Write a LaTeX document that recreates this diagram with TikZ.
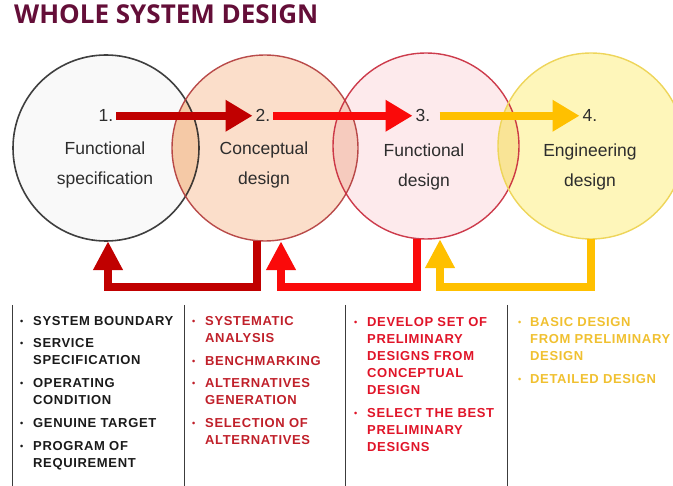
\documentclass[tikz,border=0pt]{standalone}
\usepackage{fontspec}
\setmainfont{Liberation Sans}
\newfontfamily\titlefont{Open Sans}
\newfontfamily\listfont{Liberation Sans}[LetterSpace=5]
\usetikzlibrary{arrows.meta}
\definecolor{titlecol}{RGB}{100,14,56}
\definecolor{darkred}{RGB}{192,0,0}
\definecolor{brightred}{RGB}{250,10,10}
\definecolor{amber}{RGB}{255,192,0}
\definecolor{fillA}{RGB}{249,249,249}
\definecolor{fillB}{RGB}{251,222,202}
\definecolor{fillC}{RGB}{253,234,236}
\definecolor{fillD}{RGB}{254,246,186}
\definecolor{lensAB}{RGB}{245,201,166}
\definecolor{lensBC}{RGB}{246,203,190}
\definecolor{lensCD}{RGB}{249,228,150}
\definecolor{bordA}{RGB}{30,30,30}
\definecolor{bordB}{RGB}{178,58,58}
\definecolor{bordC}{RGB}{200,40,58}
\definecolor{bordD}{RGB}{238,213,90}
\definecolor{labcol}{RGB}{45,45,45}
\definecolor{colone}{RGB}{26,26,26}
\definecolor{coltwo}{RGB}{192,32,42}
\definecolor{colthree}{RGB}{224,20,40}
\definecolor{colfour}{RGB}{240,192,48}
\definecolor{sepcol}{RGB}{60,60,60}
\newcommand{\bul}{\raisebox{1pt}{\scalebox{0.7}{•}}}
\begin{document}
\begin{tikzpicture}[x=1pt,y=-1pt,
  circ/.style={circle,minimum size=186pt,inner sep=0pt},
  num/.style={anchor=base,inner ysep=0pt,inner xsep=3pt,text height=12.5pt,text depth=0pt,font=\fontsize{17.5}{21}\selectfont,text=labcol},
  lab/.style={anchor=base,inner sep=0pt,font=\fontsize{17.5}{30}\selectfont,text=labcol},
  fwd/.style={line width=8pt,-{Triangle[width=30pt,length=27pt]}},
  fb/.style={line width=8pt,line join=miter,-{Triangle[width=28pt,length=29pt]}},
  listcol/.style={anchor=base west,inner sep=0pt,font=\listfont\bfseries\fontsize{13}{17}\selectfont},
  sep/.style={draw=sepcol,line width=1pt}]
\useasboundingbox (0,0) rectangle (673,486);
% title
\node[anchor=base west,inner sep=0pt,text=titlecol,font=\titlefont\bfseries\fontsize{26}{30}\selectfont] (title) at (14,24) {WHOLE SYSTEM DESIGN};
% circles
\node[circ,fill=fillA] (c1) at (106,148) {};
\node[circ,fill=fillB] (c2) at (265,148) {};
\node[circ,fill=fillC] (c3) at (426,146) {};
\node[circ,fill=fillD] (c4) at (591,146) {};
\begin{scope}
  \clip (c1.center) circle[radius=93pt];
  \fill[lensAB] (c2.center) circle[radius=93pt];
\end{scope}
\begin{scope}
  \clip (c2.center) circle[radius=93pt];
  \fill[lensBC] (c3.center) circle[radius=93pt];
\end{scope}
\begin{scope}
  \clip (c3.center) circle[radius=93pt];
  \fill[lensCD] (c4.center) circle[radius=93pt];
\end{scope}
\draw[bordA,line width=1.6pt,draw opacity=0.85] (c1.center) circle[radius=93pt];
\draw[bordB,line width=1.4pt,draw opacity=0.9] (c2.center) circle[radius=93pt];
\draw[bordC,line width=1.4pt,draw opacity=0.9] (c3.center) circle[radius=93pt];
\draw[bordD,line width=1.4pt] (c4.center) circle[radius=93pt];
% numbers and labels
\node[num] (n1) at (106,122) {1.};
\node[num] (n2) at (263,122) {2.};
\node[num] (n3) at (423,122) {3.};
\node[num] (n4) at (590,122) {4.};
\node[lab] (l1) at (105,155) {\begin{tabular}[t]{@{}c@{}}Functional\\specification\end{tabular}};
\node[lab] (l2) at (264,155) {\begin{tabular}[t]{@{}c@{}}Conceptual\\design\end{tabular}};
\node[lab] (l3) at (424,157) {\begin{tabular}[t]{@{}c@{}}Functional\\design\end{tabular}};
\node[lab] (l4) at (590,157) {\begin{tabular}[t]{@{}c@{}}Engineering\\design\end{tabular}};
% forward arrows
\draw[fwd,darkred] (n1.east) -- (n2.west);
\draw[fwd,brightred] (n2.east) -- (n3.west);
\draw[fwd,amber,shorten <=6pt] (n3.east) -- (n4.west);
% feedback arrows
\draw[fb,darkred] ([xshift=-8pt]c2.south) -- ++(0,46) -| ([xshift=2pt]c1.south);
\draw[fb,brightred] ([xshift=-9pt]c3.south) -- ++(0,48) -| ([xshift=16pt]c2.south);
\draw[fb,amber] ([xshift=0pt]c4.south) -- ++(0,48) -| ([xshift=14pt]c3.south);
% separators
\draw[sep] (12,305) -- (12,486);
\draw[sep] (184,305) -- (184,486);
\draw[sep] (345,305) -- (345,486);
\draw[sep] (507,305) -- (507,486);
% lists
\node[listcol,text=colone] (t1) at (20,326) {\begin{tabular}[t]{@{}p{13pt}@{}l@{}}
\bul & SYSTEM BOUNDARY\\[5pt]
\bul & SERVICE\\
 & SPECIFICATION\\[6pt]
\bul & OPERATING\\
 & CONDITION\\[6pt]
\bul & GENUINE TARGET\\[6pt]
\bul & PROGRAM OF\\
 & REQUIREMENT
\end{tabular}};
\node[listcol,text=coltwo] (t2) at (192,326) {\begin{tabular}[t]{@{}p{13pt}@{}l@{}}
\bul & SYSTEMATIC\\
 & ANALYSIS\\[6pt]
\bul & BENCHMARKING\\[5pt]
\bul & ALTERNATIVES\\
 & GENERATION\\[6pt]
\bul & SELECTION OF\\
 & ALTERNATIVES
\end{tabular}};
\node[listcol,text=colthree] (t3) at (354,327) {\begin{tabular}[t]{@{}p{13pt}@{}l@{}}
\bul & DEVELOP SET OF\\
 & PRELIMINARY\\
 & DESIGNS FROM\\
 & CONCEPTUAL\\
 & DESIGN\\[6pt]
\bul & SELECT THE BEST\\
 & PRELIMINARY\\
 & DESIGNS
\end{tabular}};
\node[listcol,text=colfour] (t4) at (518,327) {\begin{tabular}[t]{@{}p{12pt}@{}l@{}}
\bul & BASIC DESIGN\\
 & FROM PRELIMINARY\\
 & DESIGN\\[6pt]
\bul & DETAILED DESIGN
\end{tabular}};
\end{tikzpicture}
\end{document}
